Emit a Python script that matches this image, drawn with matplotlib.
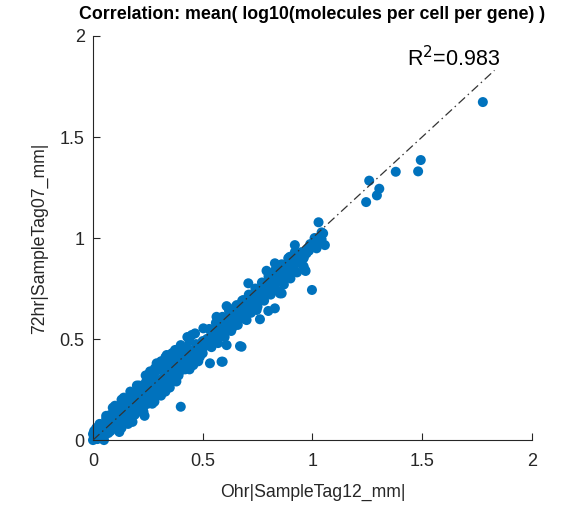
import matplotlib
matplotlib.use("Agg")
import matplotlib.pyplot as plt
import numpy as np

plt.rcParams['font.family'] = ['Liberation Sans', 'DejaVu Sans']

# ---- data (x: 0hr, y: 72hr) ----
dense_x = [0.00, 0.01, 0.00, 0.02, 0.01, 0.03, 0.02, 0.04, 0.005, 0.015,
           0.02, 0.03, 0.04, 0.05, 0.04, 0.05, 0.06, 0.06, 0.07, 0.06,
           0.07, 0.08, 0.08, 0.09, 0.08, 0.09, 0.10, 0.10, 0.11, 0.10,
           0.11, 0.12, 0.12, 0.13, 0.12, 0.13, 0.14, 0.14, 0.15, 0.14,
           0.15, 0.16, 0.16, 0.17, 0.16, 0.17, 0.18, 0.18, 0.19, 0.18,
           0.19, 0.20, 0.20, 0.21, 0.20, 0.21, 0.22, 0.22, 0.23, 0.22,
           0.23, 0.24, 0.24, 0.25, 0.24, 0.25, 0.26, 0.26, 0.27, 0.26,
           0.27, 0.28, 0.28, 0.29, 0.28, 0.29, 0.30, 0.30, 0.31, 0.30,
           0.31, 0.32, 0.32, 0.33, 0.32, 0.33, 0.34, 0.34, 0.35, 0.34,
           0.35, 0.36, 0.36, 0.37, 0.36, 0.37, 0.38, 0.38, 0.39, 0.38,
           0.39, 0.40, 0.40, 0.41, 0.40, 0.42, 0.42, 0.43, 0.42, 0.44,
           0.44, 0.45, 0.44, 0.46, 0.46, 0.47, 0.48, 0.48, 0.49, 0.50,
           0.50, 0.51, 0.52, 0.53, 0.55, 0.54, 0.09, 0.13, 0.17, 0.21,
           0.25, 0.12, 0.18, 0.23, 0.27, 0.31, 0.35, 0.03, 0.07, 0.05]
dense_y = [0.00, 0.015, 0.03, 0.005, 0.035, 0.02, 0.055, 0.01, 0.045, 0.06,
           0.025, 0.045, 0.03, 0.07, 0.065, 0.02, 0.05, 0.085, 0.035, 0.105,
           0.07, 0.045, 0.10, 0.06, 0.125, 0.085, 0.07, 0.115, 0.095, 0.145,
           0.06, 0.09, 0.13, 0.11, 0.165, 0.075, 0.10, 0.14, 0.125, 0.185,
           0.09, 0.12, 0.16, 0.145, 0.205, 0.11, 0.135, 0.18, 0.16, 0.225,
           0.125, 0.15, 0.20, 0.18, 0.245, 0.145, 0.17, 0.215, 0.20, 0.265,
           0.165, 0.19, 0.235, 0.215, 0.285, 0.18, 0.21, 0.255, 0.235, 0.305,
           0.20, 0.23, 0.27, 0.255, 0.33, 0.22, 0.25, 0.295, 0.275, 0.35,
           0.245, 0.27, 0.31, 0.29, 0.355, 0.26, 0.29, 0.335, 0.32, 0.375,
           0.28, 0.305, 0.35, 0.335, 0.395, 0.30, 0.33, 0.37, 0.355, 0.41,
           0.32, 0.345, 0.39, 0.375, 0.43, 0.35, 0.41, 0.395, 0.455, 0.38,
           0.43, 0.415, 0.49, 0.40, 0.445, 0.475, 0.42, 0.47, 0.445, 0.43,
           0.49, 0.465, 0.50, 0.475, 0.50, 0.53, 0.16, 0.20, 0.24, 0.27,
           0.31, 0.04, 0.09, 0.14, 0.18, 0.22, 0.26, 0.075, 0.12, 0.00]

edge_x = [0.06, 0.10, 0.14, 0.20, 0.24, 0.29, 0.33, 0.40, 0.43, 0.12,
          0.16, 0.22, 0.28, 0.33, 0.38, 0.44, 0.48, 0.235, 0.13, 0.03,
          0.26, 0.31, 0.36, 0.45]
edge_y = [0.12, 0.17, 0.21, 0.27, 0.32, 0.38, 0.41, 0.47, 0.51, 0.05,
          0.08, 0.14, 0.19, 0.24, 0.29, 0.35, 0.39, 0.12, 0.06, 0.08,
          0.34, 0.39, 0.43, 0.52]

mid_x = [0.52, 0.54, 0.55, 0.57, 0.58, 0.60, 0.61, 0.62, 0.63, 0.64,
         0.65, 0.66, 0.67, 0.68, 0.69, 0.70, 0.71, 0.72, 0.73, 0.74,
         0.75, 0.76, 0.77, 0.78, 0.79, 0.80, 0.81, 0.82, 0.83, 0.84,
         0.85, 0.86, 0.87, 0.88, 0.89, 0.90, 0.91, 0.93, 0.94, 0.95,
         0.96, 0.98, 0.99, 1.01, 1.02,
         0.53, 0.56, 0.59, 0.62, 0.65, 0.68, 0.71, 0.74, 0.77, 0.80,
         0.83, 0.86, 0.89, 0.92,
         0.54, 0.57, 0.60, 0.63, 0.66, 0.69, 0.72, 0.75, 0.78, 0.81,
         0.84, 0.87, 0.90, 0.93, 0.96]
mid_y = [0.50, 0.52, 0.49, 0.55, 0.52, 0.57, 0.54, 0.60, 0.56, 0.62,
         0.59, 0.63, 0.61, 0.66, 0.63, 0.68, 0.65, 0.70, 0.67, 0.72,
         0.69, 0.74, 0.71, 0.76, 0.73, 0.78, 0.75, 0.80, 0.77, 0.82,
         0.79, 0.84, 0.81, 0.86, 0.83, 0.88, 0.86, 0.90, 0.88, 0.93,
         0.90, 0.95, 0.97, 1.00, 0.98,
         0.55, 0.58, 0.61, 0.64, 0.66, 0.69, 0.72, 0.75, 0.78, 0.81,
         0.84, 0.87, 0.90, 0.93,
         0.46, 0.48, 0.51, 0.54, 0.57, 0.60, 0.63, 0.66, 0.69, 0.72,
         0.74, 0.77, 0.80, 0.83, 0.86]

spread_x = [1.777, 1.494, 1.482, 1.380, 1.259, 1.305, 1.294, 1.245, 1.028, 1.042,
            1.042, 1.057, 1.019, 0.984, 0.961, 1.049, 0.920, 0.973, 0.897, 0.829,
            0.928, 0.791, 0.969, 0.882, 0.852, 0.708, 0.998, 0.821, 0.776, 0.852,
            0.730, 0.685, 0.609, 0.655, 0.715, 0.829, 0.799, 0.746, 0.624, 0.761,
            0.700, 0.662, 0.601, 0.639, 0.579, 0.503, 0.465, 0.548, 0.609, 0.670,
            0.518, 0.472, 0.427, 0.374, 0.336, 0.396, 0.487, 0.586, 0.533, 0.457,
            0.366, 0.400, 0.563, 0.677, 0.591, 0.282, 0.305, 0.806, 0.860, 0.966]
spread_y = [1.673, 1.386, 1.330, 1.328, 1.284, 1.244, 1.211, 1.178, 1.078, 1.028,
            0.993, 0.965, 0.949, 0.937, 0.907, 1.023, 0.965, 0.924, 0.907, 0.875,
            0.875, 0.838, 0.837, 0.825, 0.800, 0.776, 0.743, 0.759, 0.734, 0.726,
            0.709, 0.693, 0.663, 0.668, 0.668, 0.652, 0.639, 0.644, 0.627, 0.598,
            0.594, 0.610, 0.586, 0.561, 0.545, 0.553, 0.528, 0.520, 0.470, 0.465,
            0.487, 0.462, 0.454, 0.446, 0.421, 0.412, 0.412, 0.388, 0.380, 0.371,
            0.371, 0.165, 0.610, 0.462, 0.388, 0.355, 0.371, 0.734, 0.726, 0.842]

r2_text = "R$^2$=0.983"
line_end = 1.83

x = np.array(dense_x + edge_x + mid_x + spread_x)
y = np.array(dense_y + edge_y + mid_y + spread_y)

fig = plt.figure(figsize=(5.85, 5.07), dpi=100)
ax = fig.add_axes([0.159, 0.132, 0.750, 0.797])

ax.scatter(x, y, s=52, color='#0072BD', edgecolors='none', zorder=2, clip_on=False)
ax.plot([0, line_end], [0, line_end], color='#333333', lw=0.9, zorder=3,
        dashes=[7, 3, 1.2, 3])

ax.set_xlim(0, 2)
ax.set_ylim(0, 2)
ax.set_xticks([0, 0.5, 1, 1.5, 2])
ax.set_yticks([0, 0.5, 1, 1.5, 2])
ax.set_xticklabels(['0', '0.5', '1', '1.5', '2'])
ax.set_yticklabels(['0', '0.5', '1', '1.5', '2'])

for s in ['top', 'right']:
    ax.spines[s].set_visible(False)
for s in ['left', 'bottom']:
    ax.spines[s].set_color('#262626')
    ax.spines[s].set_linewidth(0.8)
ax.tick_params(direction='in', length=5, width=0.8, colors='#262626', labelsize=13)
ax.tick_params(axis='x', pad=9)
ax.tick_params(axis='y', pad=6)

ax.set_xlabel('Ohr|SampleTag12_mm|', fontsize=12.7, color='#262626', labelpad=10)
ax.set_ylabel('72hr|SampleTag07_mm|', fontsize=12.7, color='#262626', labelpad=8)
ax.set_title('Correlation: mean( log10(molecules per cell per gene) )', fontsize=12.8,
             fontweight='bold', color='black', pad=12)
ax.text(1.43, 1.89, r2_text, fontsize=15.5, color='black', ha='left', va='center')

fig.savefig('out.png', dpi=100)
